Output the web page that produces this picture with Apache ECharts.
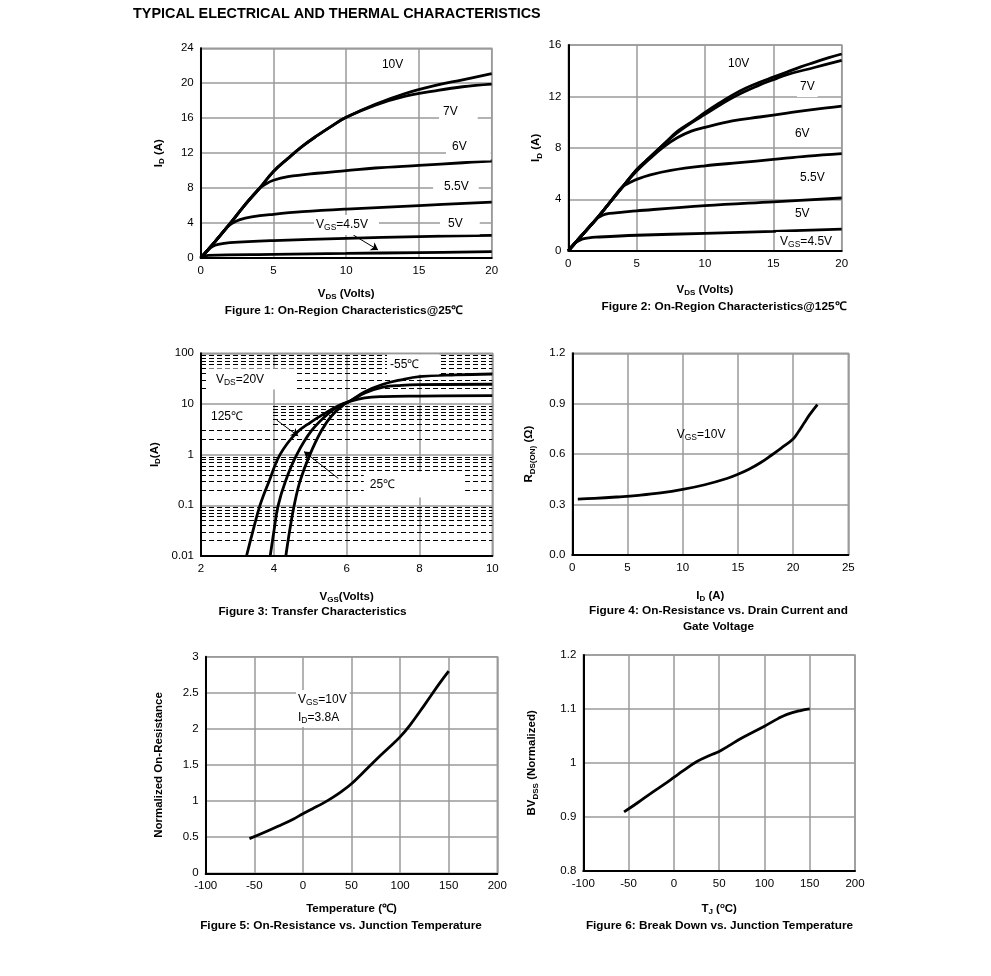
<!DOCTYPE html>
<html><head><meta charset="utf-8">
<script src="https://cdn.jsdelivr.net/npm/echarts@6/dist/echarts.min.js"></script>
<style>html,body{margin:0;padding:0;background:#fff}#c{width:991px;height:976px}</style>
</head><body><div id="c"></div><script>
// ---------------- DATA ----------------
// Figure 1: On-Region Characteristics @25C  [VDS, ID]
const f1_10V = [[0,0],[1,1.9],[2,3.9],[3,6.0],[4,7.9],[5,9.9],[6,11.4],[7,12.8],[8,14.0],[9,15.1],[10,16.1],[12,17.6],[14,18.8],[16,19.7],[18,20.4],[20,21.1]];
const f1_7V  = [[0,0],[1,1.9],[2,3.9],[3,6.0],[4,7.9],[5,9.9],[6,11.4],[7,12.8],[8,14.0],[9,15.1],[10,16.1],[12,17.5],[14,18.5],[16,19.1],[18,19.6],[20,19.9]];
const f1_6V  = [[0,0],[1,1.9],[2,3.9],[3,6.0],[4,7.9],[4.5,8.5],[5,8.9],[6,9.3],[8,9.7],[10,10.0],[12,10.3],[15,10.6],[18,10.9],[20,11.1]];
const f1_55V = [[0,0],[1,1.9],[1.8,3.5],[2.2,4.0],[2.7,4.4],[3.5,4.7],[5,5.0],[7,5.3],[10,5.6],[15,6.0],[20,6.4]];
const f1_5V  = [[0,0],[0.5,0.9],[0.8,1.3],[1.2,1.55],[2,1.75],[5,2.0],[10,2.25],[15,2.45],[20,2.6]];
const f1_45V = [[0,0],[0.5,0.3],[5,0.42],[10,0.52],[15,0.62],[20,0.72]];
// Figure 2: On-Region Characteristics @125C
const f2_10V = [[0,0],[1,1.2],[2,2.4],[3,3.7],[4,5.0],[5,6.3],[6,7.3],[7,8.3],[8,9.3],[9,10.0],[10,10.75],[11,11.45],[12,12.1],[13,12.65],[14,13.1],[15,13.5],[16,13.9],[17,14.3],[18,14.65],[19,15.0],[20,15.3]];
const f2_7V  = [[0,0],[1,1.2],[2,2.4],[3,3.7],[4,5.0],[5,6.3],[6,7.3],[7,8.3],[8,9.2],[9,9.95],[10,10.6],[12,11.9],[14,12.9],[15,13.3],[16,13.7],[18,14.25],[20,14.8]];
const f2_6V  = [[0,0],[1,1.2],[2,2.4],[3,3.7],[4,5.0],[5,6.2],[6,7.2],[7,8.1],[8,8.8],[9,9.3],[10,9.6],[12,10.1],[14,10.4],[16,10.7],[18,11.0],[20,11.25]];
const f2_55V = [[0,0],[1,1.2],[2,2.4],[3,3.7],[3.5,4.4],[4,5.0],[4.5,5.3],[5,5.55],[6,5.9],[7.5,6.25],[10,6.6],[12.5,6.85],[15,7.1],[17.5,7.35],[20,7.55]];
const f2_5V  = [[0,0],[1,1.2],[2,2.4],[2.5,2.75],[3,2.9],[4,3.0],[5,3.1],[10,3.5],[15,3.8],[20,4.1]];
const f2_45V = [[0,0],[0.5,0.6],[1,0.9],[1.5,1.0],[2,1.05],[5,1.2],[10,1.35],[15,1.5],[20,1.68]];
// Figure 3: Transfer Characteristics [VGS, ID]
const f3_125C = [[3.25,0.01],[3.42,0.03],[3.62,0.1],[3.87,0.3],[4.17,1],[4.6,2.6],[5.0,4.3],[5.5,7.2],[5.8,9.4],[6.05,11],[6.5,13.2],[7,14.0],[8,14.3],[10,14.6]];
const f3_25C  = [[3.9,0.01],[4.0,0.03],[4.12,0.1],[4.32,0.3],[4.63,1],[5.04,3],[5.5,6.5],[5.86,9.6],[6.05,11],[6.5,16.5],[7,21.5],[7.5,23.3],[8,24],[10,24.5]];
const f3_m55C = [[4.33,0.01],[4.43,0.03],[4.56,0.1],[4.72,0.3],[4.99,1],[5.31,3],[5.6,6],[5.95,10],[6.1,11.5],[6.5,17.5],[7,24.5],[7.5,30],[8,34.6],[9,37.5],[10,39]];
// Figure 4: On-Resistance vs Drain Current [ID, RDS(on)]
const f4_10V = [[0.5,0.333],[2,0.337],[4,0.345],[6,0.355],[8,0.369],[10,0.39],[12,0.418],[14,0.455],[15,0.48],[16,0.51],[17,0.547],[18,0.592],[19,0.64],[20,0.69],[20.5,0.735],[21,0.785],[21.5,0.835],[22.2,0.895]];
// Figure 5: Normalized On-Resistance vs Temperature
const f5_T = [[-55,0.48],[-40,0.565],[-25,0.655],[-10,0.75],[0,0.825],[10,0.895],[20,0.965],[30,1.045],[40,1.135],[50,1.24],[60,1.37],[75,1.57],[90,1.76],[100,1.89],[110,2.05],[125,2.33],[140,2.62],[150,2.8]];
// Figure 6: BVDSS vs Temperature
const f6_T = [[-55,0.909],[-40,0.926],[-25,0.944],[-10,0.961],[0,0.973],[10,0.985],[25,1.002],[40,1.014],[50,1.021],[60,1.031],[75,1.046],[100,1.068],[115,1.082],[125,1.09],[140,1.097],[150,1.1]];
// minor (dashed) grid values of the log axis
const f3_minor = [];
[0.01,0.1,1,10].forEach(d => { for (let k=2;k<=9;k++) f3_minor.push(+(d*k).toPrecision(3)); });

// ---------------- STYLE / LAYOUT ----------------
const FONT = '"Liberation Sans", Arial, Helvetica, sans-serif';
const GRID = '#9a9a9a';
const grids = [
  {left:200.7, top:48.3, width:291, height:209.7},
  {left:568.3, top:45, width:273.4, height:205.7},
  {left:201, top:353.3, width:291.3, height:202.7},
  {left:572.3, top:353.3, width:276, height:201.7},
  {left:205.7, top:656.7, width:291.6, height:216.6},
  {left:583.3, top:655, width:271.7, height:215.7}
].map(g => Object.assign({show:true, borderColor:GRID, borderWidth:1.5, backgroundColor:'transparent'}, g));

const nameStyle = {fontFamily:FONT, fontWeight:'bold', fontSize:11.5, color:'#000',
  rich:{s:{fontSize:8, fontWeight:'bold', fontFamily:FONT, padding:[6,0,0,0]}, p:{fontSize:8, fontWeight:'bold', fontFamily:FONT, padding:[0,0,6,0]}}};

function axis(gi, type, min, max, interval, name, gap, fmt) {
  const a = {gridIndex:gi, type:type, min:min, max:max, name:name, nameLocation:'middle', nameGap:gap,
    nameTextStyle:nameStyle,
    axisLine:{show:true, onZero:false, lineStyle:{color:'#000', width:2}},
    axisTick:{show:false},
    axisLabel:{color:'#000', fontSize:11.5, fontFamily:FONT, margin:7, showMinLabel:true, showMaxLabel:true, hideOverlap:false},
    splitLine:{show:true, lineStyle:{color:GRID, width:1.5}},
    minorTick:{show:false}, minorSplitLine:{show:false}};
  if (interval != null) a.interval = interval;
  if (type === 'log') a.logBase = 10;
  if (fmt) a.axisLabel.formatter = fmt;
  return a;
}

const xAxes = [
  axis(0,'value',0,20,5,'V{s|DS} (Volts)',28.5),
  axis(1,'value',0,20,5,'V{s|DS} (Volts)',32.5),
  axis(2,'value',2,10,2,'V{s|GS}(Volts)',33.5),
  axis(3,'value',0,25,5,'I{s|D} (A)',33.5),
  axis(4,'value',-100,200,50,'Temperature (℃)',30),
  axis(5,'value',-100,200,50,'T{s|J} ({p|o}C)',31.5)
];
const yAxes = [
  axis(0,'value',0,24,4,'I{s|D} (A)',35),
  axis(1,'value',0,16,4,'I{s|D} (A)',25),
  axis(2,'log',0.01,100,null,'I{s|D}(A)',39.5, v => String(+(+v).toPrecision(3))),
  axis(3,'value',0,1.2,0.3,'R{s|DS(ON)} (Ω)',36, v => (+v).toFixed(1)),
  axis(4,'value',0,3,0.5,'Normalized On-Resistance',41),
  axis(5,'value',0.8,1.2,0.1,'BV{s|DSS} (Normalized)',44, v => String(+(+v).toFixed(2)))
];

function curve(i, data) {
  return {type:'line', xAxisIndex:i, yAxisIndex:i, data:data, showSymbol:false, symbol:'none',
    smooth:0.4, lineStyle:{color:'#000', width:2.8, opacity:1}, itemStyle:{opacity:1}, z:3, silent:true, animation:false};
}
function labels(i, items, arrows, extra) {
  const s = {type:'scatter', xAxisIndex:i, yAxisIndex:i, symbolSize:0, z:6, silent:true, animation:false,
    itemStyle:{opacity:1, color:'#000'},
    data: items.map(it => ({value:[it[0], it[1]], label:{formatter:it[2], padding:it[3] || [2,2,2,2]}})),
    label:Object.assign({show:true, position:'right', distance:0, color:'#000', opacity:1, fontSize:12, fontFamily:FONT,
      backgroundColor:'#fff', lineHeight:14, rich:{s:{fontSize:8.5, fontFamily:FONT, color:'#000', padding:[6,0,0,0]}}}, extra || {})};
  if (arrows) {
    s.markLine = {silent:true, animation:false, symbol:['none','arrow'], symbolSize:7,
      lineStyle:{color:'#000', width:1, type:'solid', opacity:1}, itemStyle:{color:'#000', opacity:1}, label:{show:false},
      data: arrows.map(a => [{coord:[a[0],a[1]]},{coord:[a[2],a[3]]}])};
  }
  return s;
}

const series = [
  curve(0,f1_10V), curve(0,f1_7V), curve(0,f1_6V), curve(0,f1_55V), curve(0,f1_5V), curve(0,f1_45V),
  labels(0, [
    [12.25,22.08,'10V',[3,3,3,3]],
    [16.38,16.65,'7V',[5,20,6,4]],
    [16.86,12.47,'6V',[2,24,7,6]],
    [15.97,8.12,'5.5V',[4,10,5,11]],
    [16.45,3.89,'5V',[3,17,4,8]],
    [7.79,3.78,'V{s|GS}=4.5V',[3,11,3,2]]
  ], [[10.49,2.63,12.19,0.92]]),
  curve(1,f2_10V), curve(1,f2_7V), curve(1,f2_6V), curve(1,f2_55V), curve(1,f2_5V), curve(1,f2_45V),
  labels(1, [
    [11.46,14.57,'10V',[3,3,3,3]],
    [16.73,12.73,'7V',[3,3,3,3]],
    [16.36,9.13,'6V',[3,3,3,3]],
    [16.73,5.69,'5.5V',[3,3,3,3]],
    [16.36,2.91,'5V',[3,3,3,3]],
    [15.2,0.754,'V{s|GS}=4.5V',[3,8,1,4]]
  ]),
  {type:'line', xAxisIndex:2, yAxisIndex:2, data:[], z:1, silent:true, animation:false,
   markLine:{silent:true, animation:false, symbol:['none','none'], label:{show:false},
     lineStyle:{color:'#000', width:1, type:[5,3], opacity:1},
     data: f3_minor.map(v => ({yAxis:v}))}},
  curve(2,f3_125C), curve(2,f3_25C), curve(2,f3_m55C),
  labels(2, [
    [2.19,31.2,'V{s|DS}=20V',[4,32,3,8]],
    [2.027,5.67,'125℃',[4,28,4,9]],
    [7.107,60.3,'-55℃',[3,20,3,3]],
    [6.47,0.258,'25℃',[6,70,6,6]]
  ], [[4.08,4.8,4.67,2.33],[5.77,0.34,4.83,1.15]]),
  curve(3,f4_10V),
  labels(3, [[9.46,0.714,'V{s|GS}=10V',[0,0,0,0]]], null, {backgroundColor:'transparent'}),
  curve(4,f5_T),
  labels(4, [[-7.1,2.283,'V{s|GS}=10V\nI{s|D}=3.8A',[1,3,1,2]]], null, {lineHeight:17.5}),
  curve(5,f6_T)
];

const capFont = 'bold 11.8px ' + FONT;
function txt(x, y, text, font, align) {
  return {type:'text', x:x, y:y, silent:true,
    style:{text:text, font:font, fill:'#000', align:align||'center', textAlign:align||'center',
      verticalAlign:'middle', textVerticalAlign:'middle', lineHeight:16}};
}
const graphics = [
  txt(133, 14, 'TYPICAL ELECTRICAL AND THERMAL CHARACTERISTICS', 'bold 14.4px ' + FONT, 'left'),
  txt(344, 311, 'Figure 1: On-Region Characteristics@25℃', capFont),
  txt(724, 307, 'Figure 2: On-Region Characteristics@125℃', capFont),
  txt(312.5, 612, 'Figure 3: Transfer Characteristics', capFont),
  txt(718.5, 619, 'Figure 4: On-Resistance vs. Drain Current and\nGate Voltage', capFont),
  txt(341, 926, 'Figure 5: On-Resistance vs. Junction Temperature', capFont),
  txt(719.5, 926, 'Figure 6: Break Down vs. Junction Temperature', capFont)
];

const chart = echarts.init(document.getElementById('c'), null, {renderer:'canvas'});
chart.setOption({
  animation:false,
  backgroundColor:'#fff',
  grid:grids, xAxis:xAxes, yAxis:yAxes, series:series, graphic:graphics
});
</script></body></html>
